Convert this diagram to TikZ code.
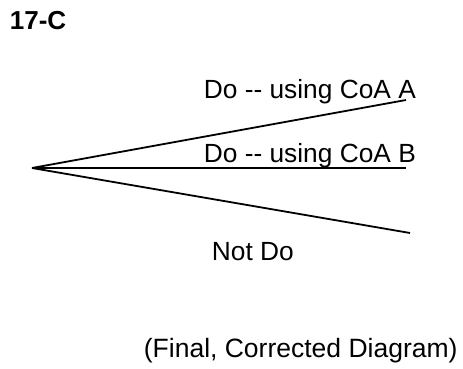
\documentclass[tikz,border=0pt]{standalone}
\usepackage{fontspec}
\setmainfont{Liberation Sans}

\begin{document}
\begin{tikzpicture}[x=1pt,y=-1pt,line width=1.8pt,auto]
  \tikzset{label text/.style={anchor=base west,inner sep=0pt,font=\fontsize{26.3}{31}\selectfont}}
  \useasboundingbox (0,0) rectangle (463,369);
  \node[label text,font=\fontsize{26}{31}\selectfont\bfseries] (title) at (9,30) {17-C};
  \coordinate (root) at (32,168);
  \coordinate (endA) at (406,100);
  \coordinate (endB) at (406,168);
  \coordinate (endC) at (410,233);
  \node[label text] (doA)   at (203,98)  {Do -{}- using CoA A};
  \node[label text] (doB)   at (203,162) {Do -{}- using CoA B};
  \node[label text] (notdo) at (211,260) {Not Do};
  \node[label text,font=\fontsize{26.5}{31}\selectfont] (final) at (143,357) {(Final, Corrected Diagram)};
  \path (root) edge (endA)
               edge (endB)
               edge (endC);
\end{tikzpicture}
\end{document}
